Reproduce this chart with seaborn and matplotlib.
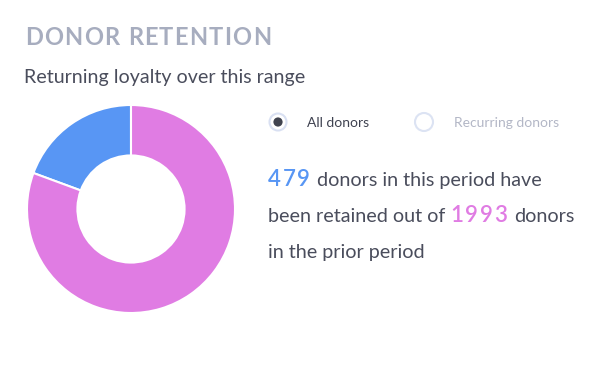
import matplotlib
matplotlib.use("Agg")
import matplotlib.pyplot as plt
import seaborn as sns
from matplotlib.patches import Circle

# data
labels = ["Retained donors", "Prior period donors"]
retained = 479
prior = 1993
values = [retained, prior]
options = ["All donors", "Recurring donors"]

BLUE = "#5896F4"
PINK = "#E07CE3"
TITLE_C = "#A7ADBF"
TEXT_C = "#4A4D5C"
MUTED_C = "#B3B7C6"

sns.set_theme(style="white")
plt.rcParams["font.family"] = ["Lato", "DejaVu Sans"]

W, H = 607, 367
fig = plt.figure(figsize=(W / 100, H / 100), dpi=100)
fig.patch.set_facecolor("white")

# overlay in pixel units for text and radio buttons
ov = fig.add_axes([0, 0, 1, 1])
ov.set_xlim(0, W)
ov.set_ylim(H, 0)
ov.axis("off")

# donut
cx, cy, rad = 131, 209, 104
ax = fig.add_axes([(cx - rad) / W, (H - cy - rad) / H, 2 * rad / W, 2 * rad / H])
ax.pie(values, colors=[BLUE, PINK], startangle=90, counterclock=True,
       wedgeprops=dict(width=0.485, edgecolor="white", linewidth=1.5))
ax.set_xlim(-1, 1)
ax.set_ylim(-1, 1)
ax.axis("off")

renderer = fig.canvas.get_renderer()


def text_w(s, **kw):
    t = ov.text(0, 0, s, **kw)
    w = t.get_window_extent(renderer).width
    t.remove()
    return w


def draw_run(x, y, s, tracking=0.0, **kw):
    # whole string, or one char at a time when letter spacing is wanted
    if not tracking:
        t = ov.text(x, y, s, va="baseline", ha="left", **kw)
        return x + t.get_window_extent(renderer).width
    sp = text_w("x x", **kw) - text_w("xx", **kw)
    for ch in s:
        if ch == " ":
            x += sp + tracking
            continue
        t = ov.text(x, y, ch, va="baseline", ha="left", **kw)
        x += t.get_window_extent(renderer).width + tracking
    return x


# headings
draw_run(25, 45, "DONOR RETENTION", tracking=1.3, fontsize=17, fontweight="bold", color=TITLE_C)
draw_run(24, 83, "Returning loyalty over this range", fontsize=14.1, color=TEXT_C)

# radio buttons
ov.add_patch(Circle((278, 122), 8.5, facecolor="white", edgecolor="#D9E0F2", lw=1.5))
ov.add_patch(Circle((278, 122), 4.6, facecolor="#40434F", edgecolor="none"))
ov.add_patch(Circle((424, 122), 9, facecolor="white", edgecolor="#DCE3F3", lw=1.5))
ov.text(307, 127, options[0], fontsize=10, color="#3F4250", va="baseline")
ov.text(454, 127, options[1], fontsize=10, color=MUTED_C, va="baseline")

# summary sentence
num_kw = dict(fontsize=16, fontweight="semibold")
body_kw = dict(fontsize=14.2, color=TEXT_C)
sp = text_w("x x", **body_kw) - text_w("xx", **body_kw)

x = draw_run(268, 186, str(retained), tracking=1.8, color=BLUE, **num_kw)
draw_run(x + sp, 186, "donors in this period have", **body_kw)
x = draw_run(268, 222, "been retained out of", **body_kw)
x = draw_run(x + sp, 222, str(prior), tracking=1.8, color=PINK, **num_kw)
draw_run(x + sp, 222, "donors", **body_kw)
draw_run(268, 258, "in the prior period", **body_kw)

fig.savefig("out.png", dpi=100, facecolor="white")
